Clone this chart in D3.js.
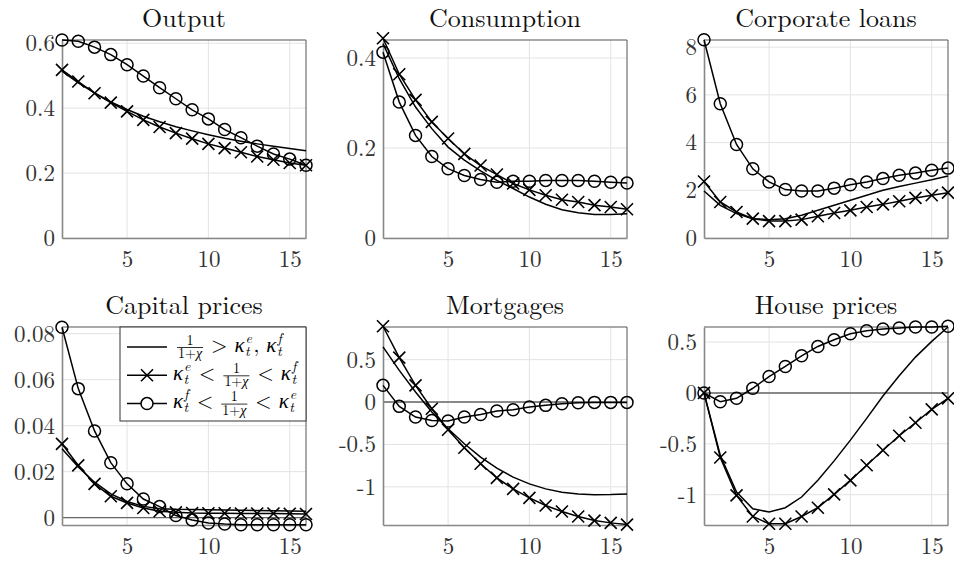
<!DOCTYPE html>
<html>
<head>
<meta charset="utf-8">
<title>Impulse responses</title>
<style>
body { margin: 0; background: #fff; }
svg text { font-family: "Latin Modern Roman", "CMU Serif", "Liberation Serif", serif; }
</style>
</head>
<body>
<svg id="chart" width="954" height="561"></svg>
<script src="https://cdn.jsdelivr.net/npm/d3@7"></script>
<script>
//---------------------------- DATA ----------------------------//
var steps = d3.range(1, 17);
var xTicks = [5, 10, 15];

var outputSolid  = [0.514,0.478,0.447,0.419,0.396,0.375,0.358,0.343,0.330,0.318,0.307,0.298,0.290,0.283,0.276,0.269];
var outputCross  = [0.518,0.482,0.446,0.417,0.390,0.364,0.342,0.323,0.306,0.290,0.277,0.264,0.251,0.241,0.231,0.224];
var outputCircle = [0.610,0.606,0.588,0.565,0.534,0.499,0.463,0.429,0.395,0.367,0.334,0.309,0.283,0.259,0.243,0.224];

var consSolid  = [0.432,0.354,0.291,0.243,0.202,0.173,0.149,0.128,0.110,0.091,0.075,0.063,0.056,0.052,0.052,0.054];
var consCross  = [0.444,0.364,0.307,0.258,0.221,0.187,0.161,0.141,0.121,0.107,0.095,0.085,0.080,0.073,0.069,0.064];
var consCircle = [0.413,0.302,0.228,0.181,0.154,0.139,0.130,0.124,0.126,0.126,0.128,0.128,0.128,0.126,0.124,0.122];

var loansSolid  = [1.97,1.37,1.02,0.81,0.77,0.81,0.95,1.16,1.37,1.58,1.79,2.00,2.16,2.30,2.44,2.60];
var loansCross  = [2.37,1.51,1.09,0.81,0.71,0.71,0.77,0.91,1.05,1.16,1.30,1.41,1.54,1.68,1.79,1.90];
var loansCircle = [8.31,5.63,3.92,2.90,2.35,2.03,1.97,1.97,2.09,2.23,2.35,2.49,2.63,2.72,2.84,2.93];

var capSolid  = [0.0300,0.0220,0.0154,0.0103,0.0070,0.0049,0.0039,0.0036,0.0035,0.0034,0.0033,0.0032,0.0031,0.0030,0.0029,0.0028];
var capCross  = [0.0321,0.0227,0.0147,0.0093,0.0064,0.0042,0.0028,0.0023,0.0020,0.0019,0.0019,0.0018,0.0018,0.0018,0.0017,0.0016];
var capCircle = [0.0828,0.0561,0.0377,0.0239,0.0147,0.0081,0.0048,0.0009,-0.0010,-0.0023,-0.0028,-0.0031,-0.0031,-0.0031,-0.0031,-0.0031];

var mortSolid  = [0.650,0.374,0.118,-0.118,-0.315,-0.492,-0.650,-0.780,-0.886,-0.965,-1.024,-1.063,-1.083,-1.094,-1.091,-1.083];
var mortCross  = [0.894,0.524,0.197,-0.079,-0.327,-0.539,-0.728,-0.894,-1.024,-1.130,-1.220,-1.291,-1.350,-1.398,-1.425,-1.445];
var mortCircle = [0.197,-0.051,-0.177,-0.217,-0.224,-0.177,-0.146,-0.106,-0.091,-0.059,-0.039,-0.020,-0.008,-0.004,-0.004,-0.004];

var houseSolid  = [0,-0.612,-0.974,-1.138,-1.171,-1.128,-1.023,-0.859,-0.668,-0.464,-0.250,-0.030,0.168,0.352,0.507,0.648];
var houseCross  = [0,-0.635,-1.007,-1.214,-1.286,-1.286,-1.214,-1.128,-0.997,-0.859,-0.711,-0.563,-0.421,-0.293,-0.161,-0.053];
var houseCircle = [0,-0.086,-0.053,0.046,0.161,0.260,0.365,0.457,0.523,0.582,0.612,0.628,0.638,0.648,0.648,0.655];

var titles = ["Output", "Consumption", "Corporate loans", "Capital prices", "Mortgages", "House prices"];
var yDomains = [[0, 0.61], [0, 0.44], [0, 8.3], [-0.0032, 0.0829], [-1.45, 0.885], [-1.298, 0.648]];
var yTickVals = [[0, 0.2, 0.4, 0.6], [0, 0.2, 0.4], [0, 2, 4, 6, 8], [0, 0.02, 0.04, 0.06, 0.08], [-1, -0.5, 0, 0.5], [-1, -0.5, 0, 0.5]];
var zeroLine = [false, false, false, true, true, true];

var panels = titles.map(function (t, i) {
    var sets = [
        [outputSolid, outputCross, outputCircle],
        [consSolid, consCross, consCircle],
        [loansSolid, loansCross, loansCircle],
        [capSolid, capCross, capCircle],
        [mortSolid, mortCross, mortCircle],
        [houseSolid, houseCross, houseCircle]
    ][i];
    return {title: t, yDomain: yDomains[i], yTicks: yTickVals[i], zero: zeroLine[i],
            series: [{mark: "none", values: sets[0]}, {mark: "cross", values: sets[1]}, {mark: "circle", values: sets[2]}]};
});

//---------------------------- LAYOUT ----------------------------//
var svg = d3.select("#chart");
var lefts = [62, 383, 704];
var tops = [40, 327];
var pw = 244, ph = 198;

var fmt = function (d) { return d3.format("")(d).replace("\u2212", "-"); };

panels.forEach(function (p, i) {
    var g = svg.append("g")
        .attr("transform", "translate(" + lefts[i % 3] + "," + tops[Math.floor(i / 3)] + ")");

    var x = d3.scaleLinear().domain([1, 16]).range([0, pw]);
    var y = d3.scaleLinear().domain(p.yDomain).range([ph, 0]);

    // grid
    g.append("g").selectAll("line").data(xTicks).enter().append("line")
        .attr("x1", function (d) { return x(d); }).attr("x2", function (d) { return x(d); })
        .attr("y1", 0).attr("y2", ph)
        .attr("stroke", "#e3e3e3").attr("stroke-width", 1);
    g.append("g").selectAll("line").data(p.yTicks).enter().append("line")
        .attr("x1", 0).attr("x2", pw)
        .attr("y1", function (d) { return y(d); }).attr("y2", function (d) { return y(d); })
        .attr("stroke", "#e3e3e3").attr("stroke-width", 1);

    // zero line
    if (p.zero) {
        g.append("line").attr("x1", 0).attr("x2", pw)
            .attr("y1", y(0)).attr("y2", y(0))
            .attr("stroke", "#666").attr("stroke-width", 1.4);
    }

    // box (top / right)
    g.append("path").attr("d", "M0,0H" + pw + "V" + ph)
        .attr("fill", "none").attr("stroke", "#555").attr("stroke-width", 1);

    // axes
    var xa = g.append("g").attr("transform", "translate(0," + ph + ")")
        .call(d3.axisBottom(x).tickValues(xTicks).tickSize(0).tickPadding(13).tickFormat(d3.format("d")));
    var ya = g.append("g")
        .call(d3.axisLeft(y).tickValues(p.yTicks).tickSize(0).tickPadding(7).tickFormat(fmt));
    [xa, ya].forEach(function (a) {
        a.select(".domain").attr("stroke", "#888").attr("stroke-width", 1.6);
        a.selectAll("text").attr("font-size", 23).attr("fill", "#333")
            .attr("font-family", "'Latin Modern Roman', 'CMU Serif', 'Liberation Serif', serif");
    });

    // title
    g.append("text").attr("x", pw / 2).attr("y", -13)
        .attr("text-anchor", "middle").attr("font-size", 26).attr("fill", "#111")
        .text(p.title);

    // series
    var line = d3.line()
        .x(function (d, j) { return x(steps[j]); })
        .y(function (d) { return y(d); });

    p.series.forEach(function (s) {
        g.append("path").attr("d", line(s.values))
            .attr("fill", "none").attr("stroke", "#000").attr("stroke-width", 1.5);
        if (s.mark === "circle") {
            g.append("g").selectAll("circle").data(s.values).enter().append("circle")
                .attr("cx", function (d, j) { return x(steps[j]); })
                .attr("cy", function (d) { return y(d); })
                .attr("r", 6).attr("fill", "none").attr("stroke", "#000").attr("stroke-width", 1.5);
        } else if (s.mark === "cross") {
            g.append("g").selectAll("path").data(s.values).enter().append("path")
                .attr("transform", function (d, j) { return "translate(" + x(steps[j]) + "," + y(d) + ")"; })
                .attr("d", "M-6,-6L6,6M-6,6L6,-6")
                .attr("stroke", "#000").attr("stroke-width", 1.6);
        }
    });

    // legend in capital prices panel
    if (i === 3) drawLegend(g, pw);
});

//---------------------------- LEGEND ----------------------------//
function drawLegend(g, pw) {
    var lx = 58, lw = pw - lx, lh = 94;
    var lg = g.append("g").attr("transform", "translate(" + lx + ",0)");
    lg.append("rect").attr("width", lw).attr("height", lh)
        .attr("fill", "#fff").attr("stroke", "#333").attr("stroke-width", 1);

    var K = {t: "txt", s: "\u03ba", it: true};
    var F = {t: "frac"};
    var rows = [
        {mark: "none",   items: [F, {t: "txt", s: " > "}, K, {t: "ss", sup: "e"}, {t: "txt", s: ", "}, K, {t: "ss", sup: "f"}]},
        {mark: "cross",  items: [K, {t: "ss", sup: "e"}, {t: "txt", s: " < "}, F, {t: "txt", s: " < "}, K, {t: "ss", sup: "f"}]},
        {mark: "circle", items: [K, {t: "ss", sup: "f"}, {t: "txt", s: " < "}, F, {t: "txt", s: " < "}, K, {t: "ss", sup: "e"}]}
    ];
    rows.forEach(function (r, k) {
        var cy = 20 + k * 28.3;
        lg.append("line").attr("x1", 7).attr("x2", 47).attr("y1", cy).attr("y2", cy)
            .attr("stroke", "#000").attr("stroke-width", 1.5);
        if (r.mark === "cross") {
            lg.append("path").attr("transform", "translate(27," + cy + ")")
                .attr("d", "M-6,-6L6,6M-6,6L6,-6").attr("stroke", "#000").attr("stroke-width", 1.6);
        } else if (r.mark === "circle") {
            lg.append("circle").attr("cx", 27).attr("cy", cy).attr("r", 6)
                .attr("fill", "#fff").attr("stroke", "#000").attr("stroke-width", 1.5);
        }
        drawMath(lg, r.mark === "none" ? 56 : 53, cy, r.items);
    });
}

// lays out a tiny bit of maths; cy is the row centre
function drawMath(g, x0, cy, items) {
    var x = x0;
    var base = cy + 4.5;
    items.forEach(function (it) {
        if (it.t === "txt") {
            var t = g.append("text").attr("x", x).attr("y", base)
                .attr("font-size", 21).attr("fill", "#000")
                .style("font-style", it.it ? "italic" : "normal")
                .style("white-space", "pre")
                .text(it.s);
            x += t.node().getComputedTextLength();
        } else if (it.t === "ss") {
            var sub = g.append("text").attr("x", x + 0.5).attr("y", cy + 8.5)
                .attr("font-size", 14).style("font-style", "italic").text("t");
            var sup = g.append("text").attr("x", x + 1).attr("y", cy - 4.5)
                .attr("font-size", 14).style("font-style", "italic").text(it.sup);
            x += Math.max(sub.node().getComputedTextLength(), sup.node().getComputedTextLength() + 1) + 1.5;
        } else if (it.t === "frac") {
            var fx = x + 1;
            var den = g.append("text").attr("y", cy + 11)
                .attr("font-size", 14).text("1+");
            den.append("tspan").style("font-style", "italic").text("\u03c7");
            var w = den.node().getComputedTextLength();
            den.attr("x", fx + 1);
            g.append("text").attr("x", fx + 1 + w / 2).attr("y", cy - 2.5)
                .attr("font-size", 14).attr("text-anchor", "middle").text("1");
            g.append("line").attr("x1", fx).attr("x2", fx + w + 2)
                .attr("y1", cy + 0.5).attr("y2", cy + 0.5)
                .attr("stroke", "#000").attr("stroke-width", 0.8);
            x = fx + w + 3;
        }
    });
}
</script>
</body>
</html>
